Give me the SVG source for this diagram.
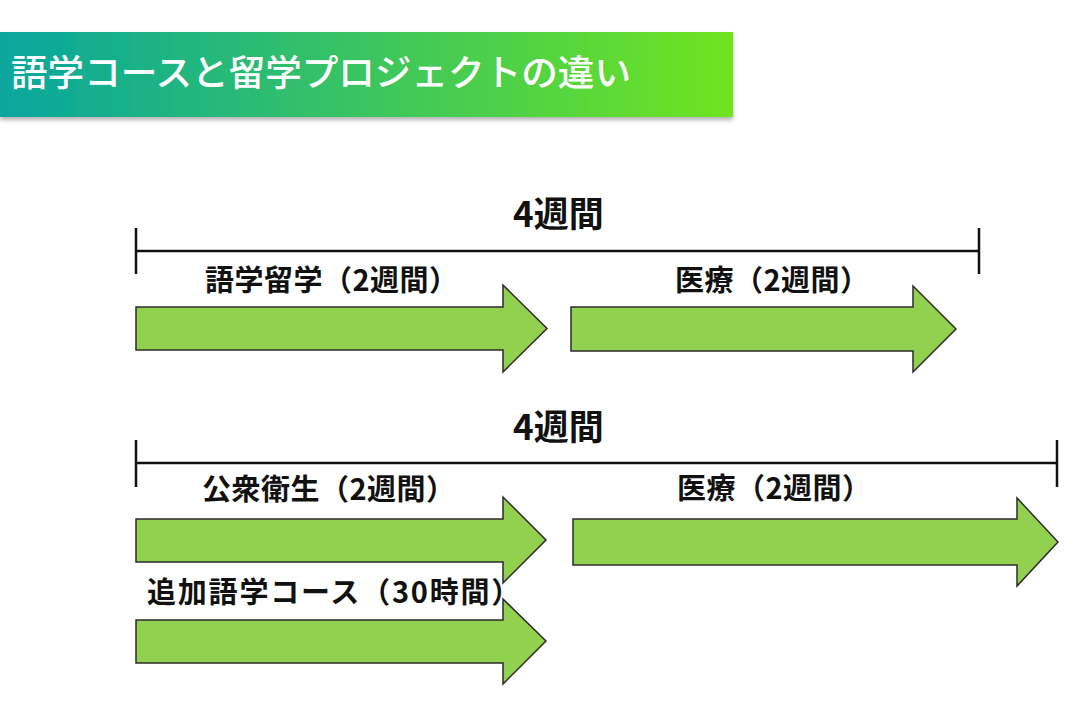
<svg xmlns="http://www.w3.org/2000/svg" width="1090" height="726" viewBox="0 0 1090 726">
<defs>
<linearGradient id="bg" x1="0" y1="0" x2="1" y2="0">
<stop offset="0" stop-color="#07a69f"/>
<stop offset="1" stop-color="#6fe420"/>
</linearGradient>
<filter id="sh" x="-5%" y="-20%" width="110%" height="150%">
<feDropShadow dx="0" dy="3" stdDeviation="2" flood-color="#000" flood-opacity="0.3"/>
</filter>
</defs>
<style>
.lbl{font-family:"Noto Sans CJK JP","Noto Sans",sans-serif;font-weight:700;font-size:29px;fill:#111}
.big{font-family:"Noto Sans CJK JP","Noto Sans",sans-serif;font-weight:700;font-size:35px;fill:#111}
.title{font-family:"Noto Sans CJK JP","Noto Sans",sans-serif;font-weight:500;font-size:36.6px;fill:#fff}
.arr{fill:#92d050;stroke:#2b2b2b;stroke-width:1.5;stroke-linejoin:miter}
.ln{stroke:#111;stroke-width:2.5;fill:none}
</style>
<rect width="1090" height="726" fill="#fff"/>
<g id="banner">
<rect x="0" y="32" width="733" height="85" fill="url(#bg)" filter="url(#sh)"/>
<text class="title" x="11" y="86">語学コースと留学プロジェクトの違い</text>
</g>
<g id="connectors">
<g id="span1">
<line class="ln" x1="136" y1="251" x2="979" y2="251"/>
<line class="ln" x1="136" y1="228" x2="136" y2="274"/>
<line class="ln" x1="979" y1="228" x2="979" y2="274"/>
</g>
<g id="span2">
<line class="ln" x1="136" y1="463" x2="1057" y2="463"/>
<line class="ln" x1="136" y1="440" x2="136" y2="487"/>
<line class="ln" x1="1057" y1="440" x2="1057" y2="487"/>
</g>
</g>
<g id="label-4w-1"><text class="big" x="513" y="227">4週間</text></g>
<g id="label-4w-2"><text class="big" x="513" y="440">4週間</text></g>
<g id="arrow-lang">
<polygon class="arr" points="136,307 503,307 503,285 547,328.5 503,372 503,350 136,350"/>
<text class="lbl" x="205" y="291" letter-spacing="0.5">語学留学（2週間）</text>
</g>
<g id="arrow-med1">
<polygon class="arr" points="571,307 913,307 913,286 956,329 913,372 913,351 571,351"/>
<text class="lbl" x="675" y="291" letter-spacing="0.5">医療（2週間）</text>
</g>
<g id="arrow-pub">
<polygon class="arr" points="136,519 503,519 503,497 546,540 503,583 503,562 136,562"/>
<text class="lbl" x="202" y="500" letter-spacing="0.5">公衆衛生（2週間）</text>
</g>
<g id="arrow-med2">
<polygon class="arr" points="573,519 1017,519 1017,498 1058,542 1017,586 1017,565 573,565"/>
<text class="lbl" x="677" y="499" letter-spacing="0.5">医療（2週間）</text>
</g>
<g id="arrow-extra">
<polygon class="arr" points="136,620 503,620 503,599 546,641 503,684 503,663 136,663"/>
<text class="lbl" x="147" y="603" letter-spacing="1.8">追加語学コース（30時間）</text>
</g>
</svg>
